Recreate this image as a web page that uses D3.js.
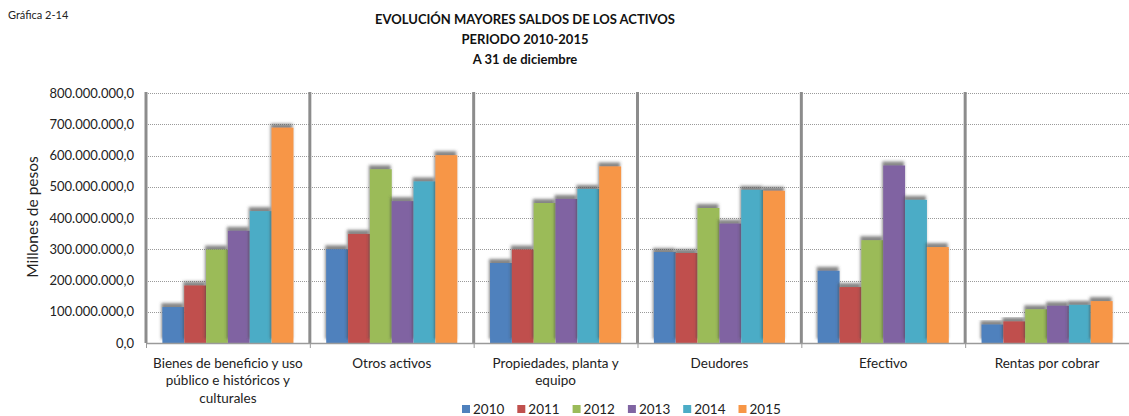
<!DOCTYPE html>
<html>
<head>
<meta charset="utf-8">
<script src="https://cdn.jsdelivr.net/npm/d3@7"></script>
<style>
  body { margin: 0; background: #fff; }
  svg { display: block; font-family: Lato, "Open Sans", sans-serif; }
</style>
</head>
<body>
<svg id="chart" width="1129" height="416"></svg>
<script>
// categories as they appear on the x axis
const categories = ["Bienes", "Otros", "Propiedades", "Deudores", "Efectivo", "Rentas"];
const categoryLabels = [
  "Bienes de beneficio y uso\npúblico e históricos y\nculturales",
  "Otros activos",
  "Propiedades, planta y\nequipo",
  "Deudores",
  "Efectivo",
  "Rentas por cobrar"
];
const years = ["2010", "2011", "2012", "2013", "2014", "2015"];
const colors = ["#4F81BD", "#C0504D", "#9BBB59", "#8064A2", "#4BACC6", "#F79646"];

// values in millions of pesos
const v2010 = [115e6, 300e6, 256e6, 291e6, 231e6, 59e6];
const v2011 = [184e6, 349e6, 299e6, 288e6, 179e6, 69e6];
const v2012 = [299e6, 556e6, 448e6, 432e6, 329e6, 108e6];
const v2013 = [359e6, 454e6, 461e6, 382e6, 568e6, 119e6];
const v2014 = [422e6, 517e6, 493e6, 490e6, 458e6, 122e6];
const v2015 = [689e6, 601e6, 565e6, 487e6, 307e6, 134e6];
const series = [v2010, v2011, v2012, v2013, v2014, v2015];

const yTicks = [0, 100e6, 200e6, 300e6, 400e6, 500e6, 600e6, 700e6, 800e6];

const svg = d3.select("#chart");
const mLeft = 146, mRight = 1129, mTop = 93, mBottom = 343;

const es = d3.formatLocale({ decimal: ",", thousands: ".", grouping: [3], currency: ["$", ""] });
const fmt = es.format(",.1f");

const x = d3.scaleBand().domain(categories).range([mLeft, mRight]).paddingInner(0).paddingOuter(0);
const xInner = d3.scaleBand().domain(years).range([0, x.bandwidth()]).paddingInner(0).paddingOuter(0.75);
const y = d3.scaleLinear().domain([0, 800e6]).range([mBottom, mTop]);

// shadow above bars
const defs = svg.append("defs");
const f = defs.append("filter").attr("id", "shadow").attr("x", "-20%").attr("y", "-20%").attr("width", "140%").attr("height", "140%");
f.append("feDropShadow").attr("dx", -1).attr("dy", -4).attr("stdDeviation", 1.8)
  .attr("flood-color", "#444").attr("flood-opacity", 0.65);

// title
svg.append("text").attr("x", 8).attr("y", 19).attr("font-size", 11).attr("fill", "#222").text("Gráfica 2-14");
const titles = ["EVOLUCIÓN MAYORES SALDOS DE LOS ACTIVOS", "PERIODO 2010-2015", "A 31 de diciembre"];
svg.selectAll("text.title").data(titles).join("text")
  .attr("class", "title")
  .attr("x", 525).attr("y", (d, i) => 24 + i * 20)
  .attr("text-anchor", "middle").attr("font-size", 13).attr("font-weight", "bold").attr("fill", "#111")
  .text(d => d);

// gridlines
svg.append("g").selectAll("line").data(yTicks.slice(1)).join("line")
  .attr("x1", mLeft).attr("x2", mRight)
  .attr("y1", d => Math.round(y(d)) + 0.5).attr("y2", d => Math.round(y(d)) + 0.5)
  .attr("stroke", "#9a9a9a").attr("stroke-width", 1).attr("stroke-dasharray", "1,1");

// y axis
const yAxis = svg.append("g").attr("transform", `translate(${mLeft - 6},0)`)
  .call(d3.axisLeft(y).tickValues(yTicks).tickFormat(fmt).tickSize(0).tickPadding(6));
yAxis.select(".domain").remove();
yAxis.selectAll("text").attr("font-size", 13).attr("fill", "#222").attr("font-family", "Lato, sans-serif");

svg.append("text")
  .attr("transform", "translate(38,217) rotate(-90)")
  .attr("text-anchor", "middle").attr("font-size", 15.5).attr("fill", "#222")
  .text("Millones de pesos");

// bars
const groups = svg.append("g").selectAll("g").data(series).join("g")
  .attr("fill", (d, i) => colors[i]);
groups.each(function(vals, si) {
  d3.select(this).selectAll("rect").data(vals).join("rect")
    .attr("x", (d, ci) => x(categories[ci]) + xInner(years[si]))
    .attr("width", xInner.bandwidth())
    .attr("y", d => y(d))
    .attr("height", d => mBottom - y(d))
    .attr("filter", "url(#shadow)");
});

// category separators and baseline
svg.append("g").selectAll("line").data(categories).join("line")
  .attr("x1", d => x(d)).attr("x2", d => x(d))
  .attr("y1", mTop - 1).attr("y2", mBottom)
  .attr("stroke", "#8c8c8c").attr("stroke-width", 3);
svg.append("line").attr("x1", mLeft).attr("x2", mRight).attr("y1", mBottom + 0.5).attr("y2", mBottom + 0.5)
  .attr("stroke", "#9a9a9a").attr("stroke-width", 1.5);
svg.append("g").selectAll("line").data(categories).join("line")
  .attr("x1", d => x(d) + 0.5).attr("x2", d => x(d) + 0.5)
  .attr("y1", mBottom).attr("y2", mBottom + 5)
  .attr("stroke", "#9a9a9a").attr("stroke-width", 1);

// category labels
const lab = svg.append("g").selectAll("text").data(categoryLabels).join("text")
  .attr("x", (d, i) => x(categories[i]) + x.bandwidth() / 2)
  .attr("y", 368)
  .attr("text-anchor", "middle").attr("font-size", 13.5).attr("fill", "#222");
lab.selectAll("tspan").data(d => d.split("\n")).join("tspan")
  .attr("x", function() { return d3.select(this.parentNode).attr("x"); })
  .attr("dy", (d, i) => i === 0 ? 0 : 17.3)
  .text(d => d);

// legend
const leg = svg.append("g").selectAll("g").data(years).join("g")
  .attr("transform", (d, i) => `translate(${462 + i * 55.3},409)`);
leg.append("rect").attr("x", 0).attr("y", -4).attr("width", 8).attr("height", 8)
  .attr("fill", (d, i) => colors[i]);
leg.append("text").attr("x", 11).attr("y", 5).attr("font-size", 13.5).attr("fill", "#222").text(d => d);
</script>
</body>
</html>
